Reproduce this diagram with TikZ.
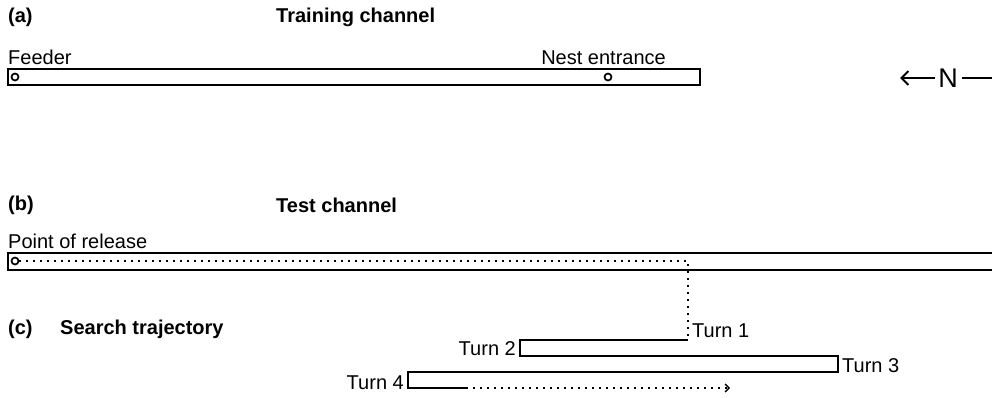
\documentclass[tikz,border=0pt]{standalone}
\usepackage{fontspec}
\setmainfont{Liberation Sans}
\usetikzlibrary{arrows.meta}
\tikzset{
    lbl/.style={inner sep=0pt, font=\fontsize{20}{24}\selectfont},
    head/.style={inner sep=0pt, font=\fontsize{20}{24}\selectfont\bfseries},
    channel/.style={line width=2.4pt},
    hole/.style={circle, draw, line width=1.7pt, minimum size=7pt, inner sep=0pt},
    track/.style={line width=1.1pt},
    dots/.style={line width=1.3pt, dash pattern=on 2pt off 5pt},
}

\begin{document}
\begin{tikzpicture}[x=1pt,y=-1pt]
\useasboundingbox (0,0) rectangle (992,397);

%training channel
\node[head, anchor=west] (a) at (8,17) {(a)};
\node[head, anchor=west] (trainhead) at (276,17) {Training channel};
\node[lbl, anchor=base west] (feeder) at (8,64) {Feeder};
\node[lbl, anchor=base east] (nestlbl) at (666,64) {Nest entrance};
\draw[channel] (8,69) rectangle (700,85);
\node[hole] (feed) at (15,77) {};
\node[hole] (nest) at (608,77) {};

%north
\node[inner sep=0pt, font=\fontsize{27}{30}\selectfont] (north) at (948,78) {N};
\coordinate (nw) at (900,78);
\coordinate (ne) at (992,78);
\draw[line width=2pt, -{Straight Barb[length=7pt,width=14pt]}] (north.west) ++(-3,0) -- (nw);
\draw[line width=2pt] (north.east) ++(4,0) -- (ne);

%test channel
\node[head, anchor=west] (b) at (8,205) {(b)};
\node[head, anchor=west] (testhead) at (276,205) {Test channel};
\node[lbl, anchor=base west] (release) at (8,248) {Point of release};
\draw[channel] (8,253) rectangle (1000,270);
\node[hole] (rel) at (15,261) {};

%search trajectory
\node[head, anchor=west] (c) at (8,329) {(c)};
\node[head, anchor=west] (search) at (60,329) {Search trajectory};
\coordinate (t1) at (688,340);
\coordinate (t2a) at (520,340);
\coordinate (t2b) at (520,356);
\coordinate (t3a) at (838,356);
\coordinate (t3b) at (838,372);
\coordinate (t4a) at (408,372);
\coordinate (t4b) at (408,388);
\coordinate (solidend) at (466,388);
\coordinate (goal) at (730,388);
\draw[dots] (rel.east) -| (t1);
\draw[track] (t1) -- (t2a) -- (t2b) -- (t3a) -- (t3b) -- (t4a) -- (t4b) -- (solidend);
\draw[dots, -{Straight Barb[length=4pt,width=8pt]}] (solidend) -- (goal);
\node[lbl, anchor=base west] (turn1) at (692,337) {Turn 1};
\node[lbl, anchor=base east] (turn2) at (516,355) {Turn 2};
\node[lbl, anchor=base west] (turn3) at (842,372) {Turn 3};
\node[lbl, anchor=base east] (turn4) at (404,389) {Turn 4};
\end{tikzpicture}
\end{document}
